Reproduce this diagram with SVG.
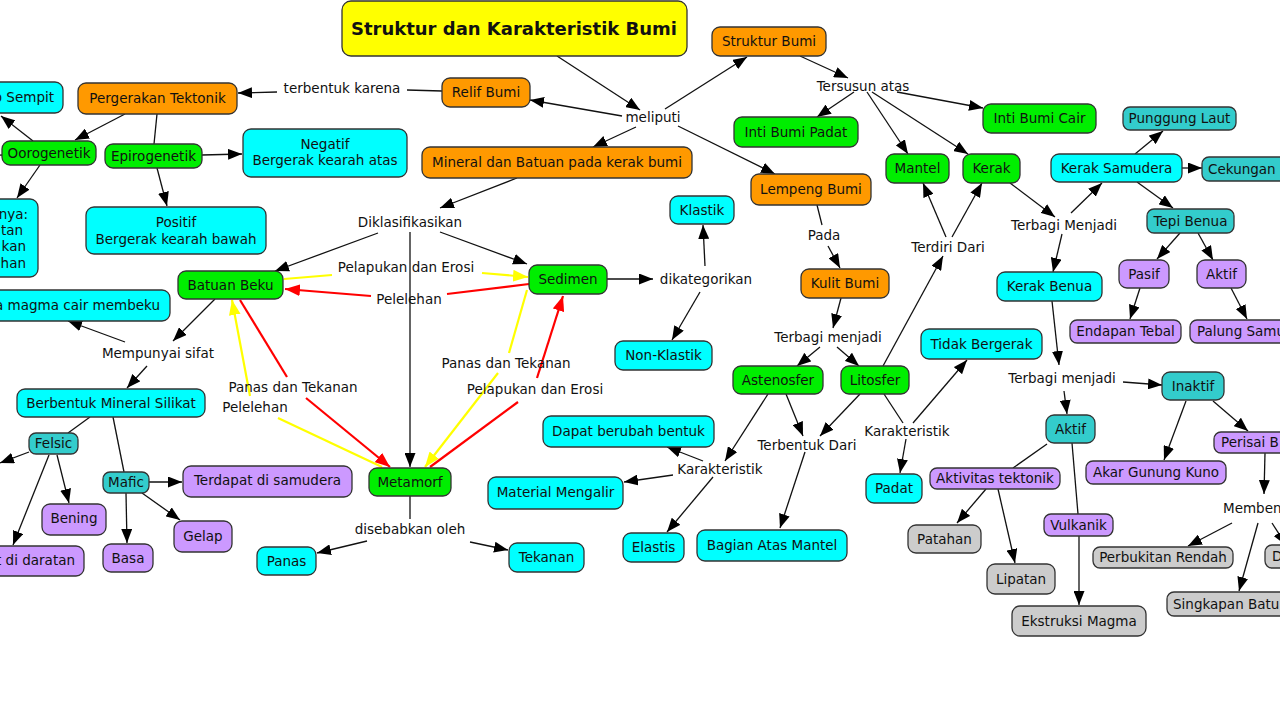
<svg xmlns="http://www.w3.org/2000/svg" width="1280" height="720" viewBox="0 0 1280 720">
<style>
.n{stroke:#333;stroke-width:1.3}
.or{fill:#FF9900}.gr{fill:#00EE00}.cy{fill:#00FFFF}.te{fill:#33CCCC}.pu{fill:#CC99FF}.gy{fill:#CCCCCC}.ye{fill:#FFFF00}
text{font-family:"DejaVu Sans","Verdana",sans-serif;font-size:13.5px;fill:#111;text-anchor:middle}
.l{stroke:#111;stroke-width:1.3;fill:none}
.la{stroke:#111;stroke-width:1.3;fill:none;marker-end:url(#ab)}
.y{stroke:#FFFF00;stroke-width:2.2;fill:none}
.r{stroke:#FF0000;stroke-width:2.2;fill:none}
.ya{stroke:#FFFF00;stroke-width:2.2;fill:none;marker-end:url(#ay)}
.ra{stroke:#FF0000;stroke-width:2.2;fill:none;marker-end:url(#ar)}
</style>
<defs>
<marker id="ab" viewBox="0 0 14 11" refX="14" refY="5.5" markerWidth="14" markerHeight="11" orient="auto" markerUnits="userSpaceOnUse"><path d="M0,0 L14,5.5 L0,11 z" fill="#000"/></marker>
<marker id="ay" viewBox="0 0 14 11" refX="14" refY="5.5" markerWidth="15" markerHeight="12" orient="auto" markerUnits="userSpaceOnUse"><path d="M0,0 L14,5.5 L0,11 z" fill="#FFFF00"/></marker>
<marker id="ar" viewBox="0 0 14 11" refX="14" refY="5.5" markerWidth="15" markerHeight="12" orient="auto" markerUnits="userSpaceOnUse"><path d="M0,0 L14,5.5 L0,11 z" fill="#FF0000"/></marker>
</defs>
<rect width="1280" height="720" fill="#fff"/>

<g id="connectors">
<line class="la" x1="557" y1="56" x2="640" y2="110"/>
<line class="la" x1="622" y1="116" x2="530" y2="100"/>
<line class="la" x1="665" y1="109" x2="747" y2="57"/>
<line class="la" x1="636" y1="127" x2="593" y2="147"/>
<line class="la" x1="678" y1="126" x2="775" y2="174"/>
<line class="l" x1="442" y1="91" x2="407" y2="90"/>
<line class="la" x1="277" y1="92" x2="238" y2="93"/>
<line class="la" x1="125" y1="114" x2="75" y2="140"/>
<line class="l" x1="157" y1="114" x2="154" y2="144"/>
<line class="la" x1="33" y1="141" x2="1" y2="116"/>
<line class="la" x1="40" y1="165" x2="17" y2="198"/>
<line class="l" x1="2" y1="155" x2="-10" y2="156"/>
<line class="la" x1="202" y1="155" x2="242" y2="154"/>
<line class="la" x1="157" y1="168" x2="167" y2="206"/>
<line class="la" x1="517" y1="178" x2="440" y2="208"/>
<line class="la" x1="378" y1="233" x2="275" y2="271"/>
<line class="la" x1="440" y1="232" x2="527" y2="264"/>
<line class="la" x1="410" y1="232" x2="410" y2="467"/>
<line class="la" x1="215" y1="299" x2="173" y2="341"/>
<line class="la" x1="125" y1="342" x2="68" y2="321"/>
<line class="la" x1="147" y1="366" x2="127" y2="388"/>
<line class="l" x1="90" y1="417" x2="68" y2="433"/>
<line class="l" x1="113" y1="417" x2="124" y2="472"/>
<line class="la" x1="29" y1="452" x2="0" y2="463"/>
<line class="la" x1="49" y1="455" x2="13" y2="545"/>
<line class="la" x1="57" y1="455" x2="69" y2="503"/>
<line class="la" x1="149" y1="482" x2="182" y2="482"/>
<line class="la" x1="126" y1="493" x2="127" y2="543"/>
<line class="la" x1="142" y1="493" x2="180" y2="520"/>
<line class="l" x1="410" y1="496" x2="410" y2="519"/>
<line class="la" x1="367" y1="541" x2="317" y2="553"/>
<line class="la" x1="470" y1="542" x2="508" y2="550"/>
<line class="la" x1="607" y1="279" x2="653" y2="279"/>
<line class="la" x1="705" y1="266" x2="703" y2="225"/>
<line class="la" x1="700" y1="292" x2="672" y2="340"/>
<line class="l" x1="817" y1="205" x2="822" y2="225"/>
<line class="la" x1="828" y1="246" x2="840" y2="268"/>
<line class="la" x1="841" y1="298" x2="833" y2="328"/>
<line class="la" x1="820" y1="347" x2="797" y2="366"/>
<line class="la" x1="837" y1="347" x2="859" y2="366"/>
<line class="la" x1="883" y1="366" x2="943" y2="256"/>
<line class="la" x1="946" y1="237" x2="923" y2="183"/>
<line class="la" x1="952" y1="237" x2="982" y2="183"/>
<line class="la" x1="800" y1="56" x2="848" y2="78"/>
<line class="la" x1="854" y1="92" x2="817" y2="117"/>
<line class="la" x1="867" y1="92" x2="908" y2="154"/>
<line class="la" x1="872" y1="92" x2="968" y2="154"/>
<line class="la" x1="897" y1="92" x2="983" y2="108"/>
<line class="la" x1="1010" y1="183" x2="1055" y2="217"/>
<line class="la" x1="1071" y1="213" x2="1102" y2="183"/>
<line class="la" x1="1062" y1="234" x2="1053" y2="272"/>
<line class="la" x1="1135" y1="154" x2="1163" y2="131"/>
<line class="la" x1="1182" y1="168" x2="1202" y2="168"/>
<line class="la" x1="1137" y1="182" x2="1173" y2="208"/>
<line class="la" x1="1180" y1="233" x2="1157" y2="259"/>
<line class="la" x1="1198" y1="233" x2="1213" y2="260"/>
<line class="la" x1="1140" y1="288" x2="1130" y2="319"/>
<line class="la" x1="1231" y1="288" x2="1247" y2="319"/>
<line class="la" x1="1052" y1="301" x2="1059" y2="365"/>
<line class="la" x1="1123" y1="382" x2="1162" y2="385"/>
<line class="la" x1="1064" y1="391" x2="1067" y2="414"/>
<line class="la" x1="1186" y1="401" x2="1164" y2="460"/>
<line class="la" x1="1213" y1="401" x2="1248" y2="431"/>
<line class="la" x1="1265" y1="453" x2="1264" y2="494"/>
<line class="la" x1="1232" y1="523" x2="1188" y2="546"/>
<line class="la" x1="1258" y1="523" x2="1239" y2="591"/>
<line class="la" x1="1272" y1="523" x2="1286" y2="545"/>
<line class="l" x1="1047" y1="444" x2="1013" y2="468"/>
<line class="l" x1="1072" y1="443" x2="1078" y2="514"/>
<line class="la" x1="986" y1="489" x2="957" y2="523"/>
<line class="la" x1="998" y1="489" x2="1015" y2="563"/>
<line class="la" x1="1079" y1="536" x2="1079" y2="605"/>
<line class="l" x1="884" y1="394" x2="903" y2="423"/>
<line class="la" x1="913" y1="423" x2="967" y2="360"/>
<line class="la" x1="906" y1="439" x2="900" y2="473"/>
<line class="la" x1="860" y1="394" x2="820" y2="436"/>
<line class="la" x1="786" y1="394" x2="803" y2="436"/>
<line class="la" x1="805" y1="452" x2="780" y2="528"/>
<line class="la" x1="768" y1="394" x2="725" y2="461"/>
<line class="la" x1="703" y1="461" x2="667" y2="447"/>
<line class="la" x1="673" y1="475" x2="624" y2="482"/>
<line class="la" x1="713" y1="477" x2="667" y2="532"/>
<line class="y" x1="284" y1="279" x2="332" y2="275"/>
<line class="ya" x1="482" y1="273" x2="528" y2="277"/>
<line class="r" x1="529" y1="284" x2="447" y2="294"/>
<line class="ra" x1="371" y1="296" x2="285" y2="289"/>
<line class="r" x1="240" y1="300" x2="287" y2="377"/>
<line class="ra" x1="306" y1="398" x2="390" y2="467"/>
<line class="y" x1="382" y1="467" x2="278" y2="418"/>
<line class="ya" x1="250" y1="396" x2="232" y2="300"/>
<line class="y" x1="527" y1="290" x2="509" y2="353"/>
<line class="ya" x1="498" y1="373" x2="425" y2="467"/>
<line class="r" x1="430" y1="467" x2="518" y2="402"/>
<line class="ra" x1="537" y1="378" x2="563" y2="296"/>
</g>

<g id="labels">
<text x="653" y="122">meliputi</text>
<text x="342" y="93">terbentuk karena</text>
<text x="410" y="227">Diklasifikasikan</text>
<text x="158" y="358">Mempunyai sifat</text>
<text x="406" y="272">Pelapukan dan Erosi</text>
<text x="409" y="304">Pelelehan</text>
<text x="293" y="392">Panas dan Tekanan</text>
<text x="255" y="412">Pelelehan</text>
<text x="506" y="368">Panas dan Tekanan</text>
<text x="535" y="394">Pelapukan dan Erosi</text>
<text x="410" y="534">disebabkan oleh</text>
<text x="706" y="284">dikategorikan</text>
<text x="824" y="240">Pada</text>
<text x="828" y="342">Terbagi menjadi</text>
<text x="948" y="252">Terdiri Dari</text>
<text x="863" y="91">Tersusun atas</text>
<text x="1064" y="230">Terbagi Menjadi</text>
<text x="1062" y="383">Terbagi menjadi</text>
<text x="907" y="436">Karakteristik</text>
<text x="807" y="450">Terbentuk Dari</text>
<text x="720" y="474">Karakteristik</text>
<text x="1223" y="513" style="text-anchor:start">Memben</text>
</g>

<g id="n-title"><rect class="n ye" x="342" y="1" width="345" height="55" rx="9"/><text x="514" y="35" style="font-weight:bold;font-size:18px">Struktur dan Karakteristik Bumi</text></g>
<g id="n-struktur"><rect class="n or" x="712" y="27" width="114" height="29" rx="8"/><text x="769" y="46">Struktur Bumi</text></g>
<g id="n-relif"><rect class="n or" x="442" y="78" width="88" height="29" rx="8"/><text x="486" y="97">Relif Bumi</text></g>
<g id="n-pergerakan"><rect class="n or" x="78" y="83" width="159" height="31" rx="8"/><text x="157.5" y="103">Pergerakan Tektonik</text></g>
<g id="n-sempit"><rect class="n cy" x="-20" y="82" width="83" height="31" rx="8"/><text x="54" y="102" style="text-anchor:end">p Sempit</text></g>
<g id="n-oorogenetik"><rect class="n gr" x="2" y="141" width="94" height="24" rx="8"/><text x="49" y="157.5">Oorogenetik</text></g>
<g id="n-epirogenetik"><rect class="n gr" x="105" y="144" width="97" height="24" rx="8"/><text x="153.5" y="160.5">Epirogenetik</text></g>
<g id="n-negatif"><rect class="n cy" x="243" y="129" width="164" height="48" rx="8"/><text x="325" y="149">Negatif</text><text x="325" y="165">Bergerak kearah atas</text></g>
<g id="n-positif"><rect class="n cy" x="86" y="207" width="180" height="47" rx="8"/><text x="176" y="227">Positif</text><text x="176" y="244">Bergerak kearah bawah</text></g>
<g id="n-contoh"><rect class="n cy" x="-20" y="199" width="58" height="78" rx="8"/><text x="28" y="219" style="text-anchor:end">nya:</text><text x="23" y="235" style="text-anchor:end">tan</text><text x="26" y="251" style="text-anchor:end">kan</text><text x="26" y="268" style="text-anchor:end">han</text></g>
<g id="n-mineral"><rect class="n or" x="422" y="147" width="270" height="31" rx="8"/><text x="557" y="167">Mineral dan Batuan pada kerak bumi</text></g>
<g id="n-batuanbeku"><rect class="n gr" x="178" y="271" width="105" height="28" rx="8"/><text x="230.5" y="290">Batuan Beku</text></g>
<g id="n-sedimen"><rect class="n gr" x="529" y="265" width="78" height="29" rx="8"/><text x="568" y="284">Sedimen</text></g>
<g id="n-metamorf"><rect class="n gr" x="369" y="468" width="82" height="28" rx="8"/><text x="410" y="487">Metamorf</text></g>
<g id="n-magma"><rect class="n cy" x="-20" y="290" width="190" height="31" rx="8"/><text x="160" y="310" style="text-anchor:end">a magma cair membeku</text></g>
<g id="n-silikat"><rect class="n cy" x="17" y="389" width="188" height="28" rx="8"/><text x="111" y="408">Berbentuk Mineral Silikat</text></g>
<g id="n-felsic"><rect class="n te" x="29" y="433" width="49" height="21" rx="7"/><text x="53.5" y="448">Felsic</text></g>
<g id="n-mafic"><rect class="n te" x="103" y="472" width="46" height="21" rx="7"/><text x="126" y="487">Mafic</text></g>
<g id="n-samudera"><rect class="n pu" x="183" y="466" width="169" height="31" rx="8"/><text x="267.5" y="485">Terdapat di samudera</text></g>
<g id="n-bening"><rect class="n pu" x="42" y="504" width="64" height="31" rx="8"/><text x="74" y="523">Bening</text></g>
<g id="n-gelap"><rect class="n pu" x="174" y="521" width="58" height="31" rx="8"/><text x="203" y="541">Gelap</text></g>
<g id="n-basa"><rect class="n pu" x="103" y="544" width="50" height="28" rx="8"/><text x="128" y="563">Basa</text></g>
<g id="n-daratan"><rect class="n pu" x="-20" y="546" width="104" height="30" rx="8"/><text x="75" y="565" style="text-anchor:end">t di daratan</text></g>
<g id="n-panas"><rect class="n cy" x="257" y="547" width="59" height="28" rx="8"/><text x="286.5" y="566">Panas</text></g>
<g id="n-tekanan"><rect class="n cy" x="509" y="543" width="75" height="29" rx="8"/><text x="546.5" y="562">Tekanan</text></g>
<g id="n-klastik"><rect class="n cy" x="670" y="196" width="64" height="28" rx="8"/><text x="702" y="215">Klastik</text></g>
<g id="n-nonklastik"><rect class="n cy" x="615" y="341" width="97" height="29" rx="8"/><text x="663.5" y="360">Non-Klastik</text></g>
<g id="n-lempeng"><rect class="n or" x="751" y="174" width="120" height="31" rx="8"/><text x="811" y="194">Lempeng Bumi</text></g>
<g id="n-kulit"><rect class="n or" x="801" y="269" width="88" height="29" rx="8"/><text x="845" y="288">Kulit Bumi</text></g>
<g id="n-astenosfer"><rect class="n gr" x="733" y="366" width="90" height="28" rx="8"/><text x="778" y="385">Astenosfer</text></g>
<g id="n-litosfer"><rect class="n gr" x="841" y="366" width="68" height="28" rx="8"/><text x="875" y="385">Litosfer</text></g>
<g id="n-mantel"><rect class="n gr" x="886" y="154" width="63" height="29" rx="8"/><text x="917.5" y="173">Mantel</text></g>
<g id="n-kerak"><rect class="n gr" x="963" y="154" width="57" height="29" rx="8"/><text x="991.5" y="173">Kerak</text></g>
<g id="n-intipadat"><rect class="n gr" x="734" y="117" width="124" height="30" rx="8"/><text x="796" y="137">Inti Bumi Padat</text></g>
<g id="n-inticair"><rect class="n gr" x="983" y="104" width="113" height="29" rx="8"/><text x="1039.5" y="123">Inti Bumi Cair</text></g>
<g id="n-keraksamudera"><rect class="n cy" x="1051" y="154" width="131" height="28" rx="8"/><text x="1116.5" y="173">Kerak Samudera</text></g>
<g id="n-punggung"><rect class="n te" x="1123" y="107" width="113" height="23" rx="7"/><text x="1179.5" y="123">Punggung Laut</text></g>
<g id="n-cekungan"><rect class="n te" x="1202" y="157" width="100" height="24" rx="7"/><text x="1208" y="173.5" style="text-anchor:start">Cekungan</text></g>
<g id="n-tepibenua"><rect class="n te" x="1147" y="209" width="87" height="24" rx="7"/><text x="1190.5" y="225.5">Tepi Benua</text></g>
<g id="n-pasif"><rect class="n pu" x="1119" y="260" width="50" height="28" rx="8"/><text x="1144" y="279">Pasif</text></g>
<g id="n-aktif1"><rect class="n pu" x="1197" y="260" width="49" height="28" rx="8"/><text x="1221.5" y="279">Aktif</text></g>
<g id="n-endapan"><rect class="n pu" x="1070" y="320" width="111" height="23" rx="7"/><text x="1125.5" y="336">Endapan Tebal</text></g>
<g id="n-palung"><rect class="n pu" x="1190" y="320" width="110" height="23" rx="7"/><text x="1197" y="336" style="text-anchor:start">Palung Samu</text></g>
<g id="n-kerakbenua"><rect class="n cy" x="997" y="272" width="105" height="29" rx="8"/><text x="1049.5" y="291">Kerak Benua</text></g>
<g id="n-tidakbergerak"><rect class="n cy" x="921" y="329" width="121" height="30" rx="8"/><text x="981.5" y="349">Tidak Bergerak</text></g>
<g id="n-inaktif"><rect class="n te" x="1162" y="372" width="62" height="28" rx="8"/><text x="1193" y="391">Inaktif</text></g>
<g id="n-aktif2"><rect class="n te" x="1046" y="415" width="49" height="28" rx="8"/><text x="1070.5" y="434">Aktif</text></g>
<g id="n-perisai"><rect class="n pu" x="1214" y="432" width="90" height="21" rx="7"/><text x="1221" y="447" style="text-anchor:start">Perisai B</text></g>
<g id="n-akar"><rect class="n pu" x="1086" y="461" width="140" height="23" rx="7"/><text x="1156" y="477">Akar Gunung Kuno</text></g>
<g id="n-aktivitas"><rect class="n pu" x="930" y="468" width="130" height="21" rx="7"/><text x="995" y="483">Aktivitas tektonik</text></g>
<g id="n-padat"><rect class="n cy" x="866" y="474" width="56" height="29" rx="8"/><text x="894" y="493">Padat</text></g>
<g id="n-patahan"><rect class="n gy" x="908" y="525" width="73" height="28" rx="8"/><text x="944.5" y="544">Patahan</text></g>
<g id="n-lipatan"><rect class="n gy" x="987" y="564" width="68" height="30" rx="8"/><text x="1021" y="584">Lipatan</text></g>
<g id="n-vulkanik"><rect class="n pu" x="1044" y="514" width="69" height="22" rx="7"/><text x="1078.5" y="530">Vulkanik</text></g>
<g id="n-ekstruksi"><rect class="n gy" x="1012" y="606" width="134" height="30" rx="8"/><text x="1079" y="626">Ekstruksi Magma</text></g>
<g id="n-perbukitan"><rect class="n gy" x="1093" y="547" width="140" height="21" rx="7"/><text x="1163" y="562">Perbukitan Rendah</text></g>
<g id="n-d"><rect class="n gy" x="1265" y="545" width="40" height="23" rx="7"/><text x="1272" y="561" style="text-anchor:start">D</text></g>
<g id="n-singkapan"><rect class="n gy" x="1167" y="592" width="140" height="24" rx="7"/><text x="1173" y="608.5" style="text-anchor:start">Singkapan Batu</text></g>
<g id="n-dapat"><rect class="n cy" x="543" y="416" width="171" height="31" rx="8"/><text x="628.5" y="436">Dapat berubah bentuk</text></g>
<g id="n-material"><rect class="n cy" x="488" y="477" width="135" height="32" rx="8"/><text x="555.5" y="497">Material Mengalir</text></g>
<g id="n-elastis"><rect class="n cy" x="623" y="533" width="61" height="29" rx="8"/><text x="653.5" y="552">Elastis</text></g>
<g id="n-bagianatas"><rect class="n cy" x="697" y="530" width="150" height="31" rx="8"/><text x="772" y="550">Bagian Atas Mantel</text></g>
</svg>
